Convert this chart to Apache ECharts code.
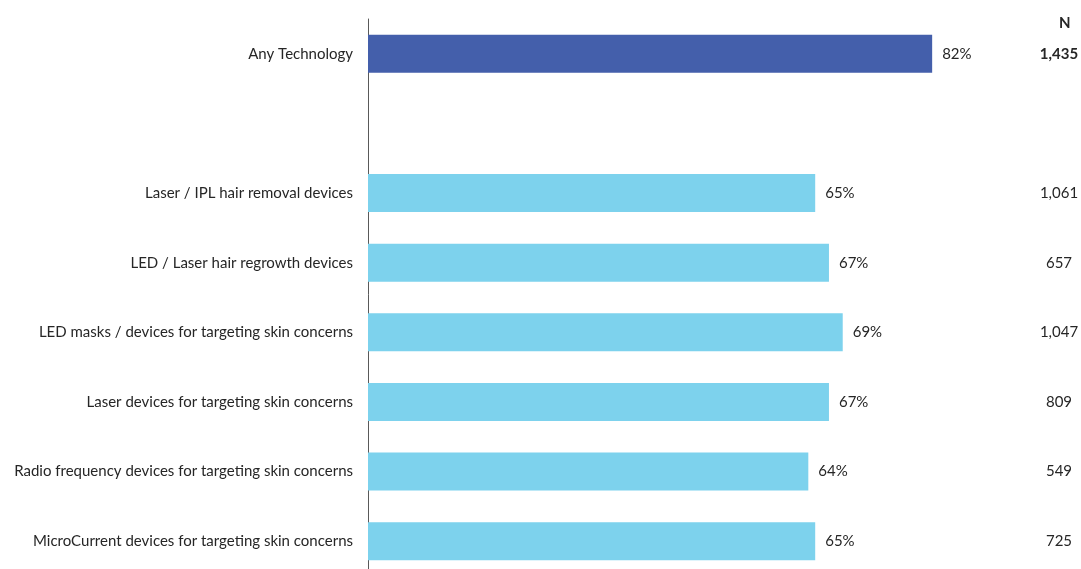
<!DOCTYPE html>
<html>
<head>
<meta charset="utf-8">
<script src="https://cdn.jsdelivr.net/npm/echarts@6/dist/echarts.min.js"></script>
<style>
  html, body { margin: 0; padding: 0; background: #fff; }
  #chart { width: 1081px; height: 569px; }
</style>
</head>
<body>
<div id="chart"></div>
<script>
// Share of respondents per device type, with sample size (N) per row.
const categories = [
  'Any Technology',
  '',
  'Laser / IPL hair removal devices',
  'LED / Laser hair regrowth devices',
  'LED masks / devices for targeting skin concerns',
  'Laser devices for targeting skin concerns',
  'Radio frequency devices for targeting skin concerns',
  'MicroCurrent devices for targeting skin concerns'
];
const percentValues = [82, null, 65, 67, 69, 67, 64, 65];
const sampleSizes = ['1,435', '', '1,061', '657', '1,047', '809', '549', '725'];
const nHeader = 'N';

const totalColor = '#445FAB';
const deviceColor = '#7DD2ED';
const textColor = '#262626';
const font = 'Lato, "Noto Sans", sans-serif';

const chart = echarts.init(document.getElementById('chart'));

chart.setOption({
  animation: false,
  backgroundColor: '#fff',
  title: {
    text: nHeader,
    left: 1054,
    top: 11,
    textStyle: { fontFamily: font, fontSize: 15, fontWeight: 'bold', color: textColor }
  },
  grid: {
    left: 368, top: 19, right: 25, bottom: -7,
    containLabel: false,
    outerBoundsMode: 'none'
  },
  xAxis: {
    type: 'value',
    min: 0,
    max: 100,
    show: false
  },
  yAxis: [
    {
      type: 'category',
      data: categories,
      inverse: true,
      axisLine: { show: true, lineStyle: { color: '#595959', width: 1 } },
      axisTick: { show: false },
      axisLabel: {
        margin: 15,
        fontFamily: font,
        fontSize: 15,
        color: textColor
      }
    },
    {
      type: 'category',
      data: sampleSizes,
      inverse: true,
      position: 'right',
      axisLine: { show: false },
      axisTick: { show: false },
      axisLabel: {
        margin: 3,
        align: 'center',
        fontFamily: font,
        fontSize: 15,
        color: textColor,
        formatter: (v, i) => (i === 0 ? '{b|' + v + '}' : v),
        rich: {
          b: { fontFamily: font, fontSize: 15, fontWeight: 'bold', color: textColor }
        }
      }
    }
  ],
  series: [
    {
      type: 'bar',
      yAxisIndex: 0,
      barWidth: 38,
      data: percentValues.map((v, i) => ({
        value: v,
        itemStyle: { color: i === 0 ? totalColor : deviceColor }
      })),
      label: {
        show: true,
        position: 'right',
        distance: 10,
        fontFamily: font,
        fontSize: 15,
        color: textColor,
        formatter: p => (p.value == null ? '' : p.value + '%')
      }
    }
  ]
});
</script>
</body>
</html>
